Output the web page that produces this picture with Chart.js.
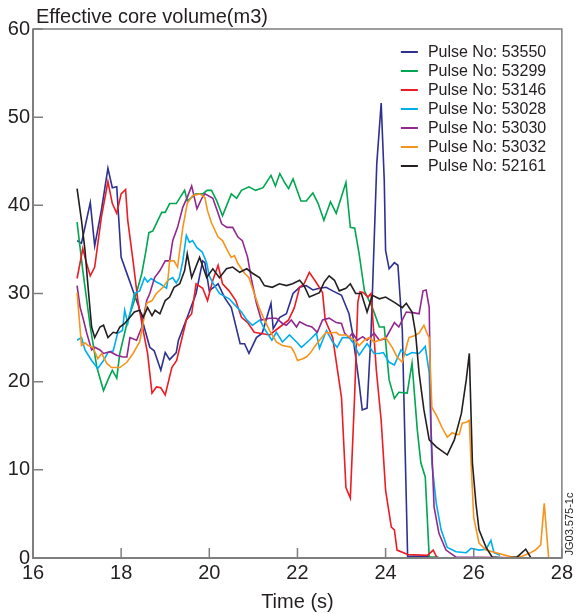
<!DOCTYPE html>
<html>
<head>
<meta charset="utf-8">
<title>Effective core volume</title>
<script src="https://cdn.jsdelivr.net/npm/chart.js@4/dist/chart.umd.min.js"></script>
<style>
  html, body { margin: 0; padding: 0; background: #fff; }
  canvas { display: block; }
</style>
</head>
<body>
<canvas id="chart" width="576" height="614"></canvas>
<script>
// axis ticks
const xTicks = [16, 18, 20, 22, 24, 26, 28];
const yTicks = [0, 10, 20, 30, 40, 50, 60];

// pulse names and colours
const pulseNames = ['Pulse No: 53550', 'Pulse No: 53299', 'Pulse No: 53146', 'Pulse No: 53028',
    'Pulse No: 53030', 'Pulse No: 53032', 'Pulse No: 52161'];
const pulseColors = ['#2e3192', '#00a651', '#ed1c24', '#00aeef', '#92278f', '#f7941d', '#231f20'];

// Pulse 53550
const t53550 = [17.0, 17.1, 17.3, 17.4, 17.55, 17.7, 17.8, 17.9, 18.0, 18.15, 18.27, 18.4, 18.5, 18.65, 18.75, 18.9,
    19.0, 19.1, 19.25, 19.3, 19.5, 19.7, 19.85, 19.9, 20.0, 20.2, 20.35, 20.5, 20.7, 20.8, 20.9, 21.07, 21.2, 21.4,
    21.45, 21.6, 21.75, 21.9, 22.05, 22.2, 22.35, 22.5, 22.65, 22.8, 23.0, 23.17, 23.25, 23.4, 23.47, 23.58, 23.67,
    23.8, 23.9, 23.97, 24.0, 24.08, 24.2, 24.28, 24.38, 24.5, 25.0];
const v53550 = [36.0, 35.7, 40.3, 35.4, 39.4, 44.2, 42.0, 42.1, 34.1, 32.0, 30.3, 28.5, 26.6, 23.9, 23.5, 21.3,
    23.3, 22.5, 23.3, 24.7, 27.3, 30.0, 33.7, 33.5, 30.3, 31.1, 29.5, 28.4, 24.3, 24.3, 23.2, 25.0, 25.5, 28.9,
    26.0, 27.3, 27.7, 30.0, 30.7, 30.9, 30.4, 30.6, 30.7, 30.3, 29.8, 27.7, 25.5, 19.8, 16.8, 17.0, 25.5,
    44.7, 51.6, 42.8, 34.9, 32.8, 33.5, 33.2, 25.8, 0.2, 0.2];

// Pulse 53299
const t53299 = [17.0, 17.13, 17.3, 17.45, 17.6, 17.7, 17.8, 17.9, 17.97, 18.13, 18.3, 18.47, 18.55, 18.63, 18.72,
    18.92, 19.0, 19.1, 19.25, 19.44, 19.5, 19.7, 19.85, 19.95, 20.05, 20.17, 20.3, 20.5, 20.62, 20.73, 20.9, 21.05,
    21.22, 21.4, 21.5, 21.6, 21.72, 21.8, 21.9, 22.08, 22.2, 22.35, 22.47, 22.6, 22.75, 22.88, 23.1, 23.2, 23.3,
    23.4, 23.52, 23.7, 23.86, 23.97, 24.08, 24.2, 24.3, 24.49, 24.6, 24.72, 24.8, 24.9, 24.99, 25.2];
const v53299 = [38.1, 32.6, 26.2, 21.6, 19.0, 20.2, 21.3, 20.4, 23.2, 26.6, 29.2, 32.3, 34.5, 36.9, 37.1,
    39.2, 39.2, 40.2, 40.2, 41.7, 40.5, 41.3, 41.3, 41.7, 41.7, 40.5, 38.8, 41.3, 40.8, 41.7, 42.1, 41.7,
    42.0, 43.4, 42.2, 43.6, 42.5, 41.9, 43.0, 40.5, 40.5, 41.4, 40.2, 38.3, 40.4, 39.1, 42.6, 37.5, 37.4,
    34.5, 30.3, 28.4, 26.2, 26.2, 20.2, 18.1, 18.8, 18.7, 22.1, 14.5, 10.8, 9.2, 0.1, 0.1];

// Pulse 53146
const t53146 = [17.0, 17.13, 17.2, 17.3, 17.4, 17.55, 17.7, 17.8, 17.9, 18.0, 18.1, 18.15, 18.27, 18.38, 18.5,
    18.6, 18.7, 18.8, 18.9, 19.0, 19.15, 19.26, 19.33, 19.48, 19.6, 19.7, 19.85, 19.96, 20.08, 20.2, 20.3, 20.45,
    20.6, 20.73, 20.87, 21.02, 21.15, 21.37, 21.6, 21.8, 21.93, 22.05, 22.15, 22.27, 22.42, 22.57, 22.63, 22.8,
    22.9, 23.0, 23.1, 23.2, 23.3, 23.37, 23.42, 23.5, 23.6, 23.67, 23.79, 23.9, 24.0, 24.13, 24.2, 24.26, 24.5,
    24.95, 25.08, 25.17, 25.3];
const v53146 = [31.7, 35.1, 33.7, 32.0, 33.0, 38.6, 42.7, 40.2, 39.1, 41.3, 41.8, 38.3, 33.7, 29.2, 25.8,
    23.2, 18.7, 19.4, 19.3, 18.5, 21.6, 22.4, 23.9, 27.0, 27.7, 31.1, 30.6, 29.2, 31.5, 33.2, 31.1, 30.3,
    29.2, 27.3, 26.7, 25.6, 25.5, 25.3, 26.2, 27.0, 28.4, 30.7, 31.1, 32.4, 31.3, 30.1, 27.0, 25.0,
    21.6, 18.2, 8.0, 6.8, 18.7, 29.0, 30.2, 30.1, 29.6, 30.0, 21.3, 15.6, 7.7, 3.5, 3.2, 0.9, 0.4,
    0.3, 0.9, 0.0, 0.0];

// Pulse 53028
const t53028 = [17.0, 17.1, 17.18, 17.33, 17.47, 17.6, 17.7, 17.82, 17.92, 18.03, 18.08, 18.15, 18.3, 18.42,
    18.53, 18.6, 18.68, 18.8, 18.88, 19.03, 19.06, 19.17, 19.25, 19.32, 19.4, 19.48, 19.55, 19.62, 19.72, 19.84,
    19.94, 20.0, 20.08, 20.23, 20.45, 20.6, 20.73, 20.85, 20.98, 21.15, 21.25, 21.42, 21.52, 21.66, 21.82, 21.98,
    22.09, 22.27, 22.43, 22.5, 22.66, 22.8, 22.9, 23.02, 23.17, 23.28, 23.4, 23.58, 23.74, 23.85, 23.95, 24.08,
    24.2, 24.35, 24.48, 24.6, 24.76, 24.9, 24.99, 25.05, 25.15, 25.26, 25.4, 25.6, 25.83, 25.94, 26.12, 26.28,
    26.39, 26.46, 26.6];
const v53028 = [24.7, 25.0, 23.6, 22.4, 21.5, 22.4, 23.3, 23.5, 25.5, 25.8, 28.1, 26.6, 30.0, 30.3,
    31.8, 31.3, 31.7, 31.3, 31.1, 30.6, 31.5, 31.8, 31.2, 31.8, 33.7, 36.6, 35.8, 36.0, 35.2, 34.7,
    33.5, 32.0, 31.2, 30.0, 29.4, 28.6, 27.9, 27.0, 26.4, 27.0, 26.0, 24.7, 25.6, 24.5, 25.3, 24.5,
    23.9, 24.7, 25.5, 23.8, 25.8, 24.5, 23.9, 25.0, 25.0, 24.3, 23.0, 24.3, 23.2, 23.2, 23.3, 22.2,
    21.9, 23.6, 23.0, 23.3, 23.2, 24.0, 21.0, 10.8, 6.2, 3.2, 1.2, 0.7, 0.6, 1.1, 0.9, 1.0,
    2.0, 0.6, 0.3];

// Pulse 53030
const t53030 = [17.0, 17.07, 17.13, 17.22, 17.33, 17.4, 17.52, 17.6, 17.75, 17.9, 18.04, 18.13, 18.2, 18.35,
    18.47, 18.58, 18.65, 18.76, 18.88, 19.0, 19.1, 19.17, 19.28, 19.4, 19.5, 19.6, 19.72, 19.83, 19.9, 20.08,
    20.2, 20.28, 20.4, 20.53, 20.65, 20.75, 20.87, 20.96, 21.07, 21.18, 21.37, 21.52, 21.66, 21.75, 21.86, 21.98,
    22.05, 22.2, 22.33, 22.45, 22.57, 22.72, 22.88, 23.0, 23.07, 23.17, 23.25, 23.36, 23.48, 23.58, 23.74, 23.86,
    24.0, 24.2, 24.3, 24.47, 24.65, 24.76, 24.85, 24.92, 24.99, 25.03, 25.1, 25.21, 25.37, 25.6, 27.5];
const v53030 = [30.9, 28.4, 27.3, 25.5, 23.6, 23.9, 23.6, 23.2, 23.4, 23.0, 22.8, 22.8, 25.0, 24.7,
    26.2, 29.2, 30.0, 31.8, 32.6, 33.7, 33.7, 36.0, 37.5, 39.8, 40.9, 42.2, 39.6, 40.8, 41.3, 40.8,
    39.1, 37.9, 37.5, 37.5, 36.4, 36.0, 34.1, 31.5, 28.9, 27.0, 27.2, 27.2, 26.6, 26.4, 27.0, 26.2,
    26.8, 26.4, 26.2, 25.6, 27.0, 27.2, 26.7, 26.6, 25.5, 25.0, 25.5, 24.7, 25.1, 24.7, 25.5, 24.7,
    24.9, 26.7, 26.2, 27.9, 27.8, 27.7, 30.3, 30.4, 28.4, 14.8, 5.8, 2.8, 0.9, 0.1, 0.0];

// Pulse 53032
const t53032 = [17.0, 17.1, 17.18, 17.25, 17.36, 17.47, 17.56, 17.67, 17.78, 17.97, 18.13, 18.27, 18.42, 18.58,
    18.7, 18.8, 18.95, 19.06, 19.1, 19.2, 19.28, 19.4, 19.5, 19.62, 19.78, 19.9, 19.96, 20.05, 20.2, 20.3,
    20.41, 20.5, 20.57, 20.65, 20.8, 20.9, 21.02, 21.13, 21.25, 21.37, 21.52, 21.66, 21.86, 21.93, 22.0, 22.12,
    22.2, 22.3, 22.38, 22.5, 22.65, 22.72, 22.88, 22.95, 23.1, 23.3, 23.4, 23.52, 23.63, 23.74, 23.86, 24.0,
    24.15, 24.26, 24.38, 24.47, 24.53, 24.65, 24.76, 24.87, 24.94, 24.99, 25.05, 25.17, 25.28, 25.4, 25.51, 25.6,
    25.67, 25.74, 25.83, 25.9, 25.94, 26.0, 26.12, 26.28, 26.57, 26.87, 27.1, 27.25, 27.4, 27.52, 27.6, 27.7];
const v53032 = [30.1, 24.1, 24.4, 24.1, 23.9, 22.6, 23.2, 22.1, 21.6, 21.6, 22.2, 23.2, 24.5, 28.9,
    29.2, 30.0, 30.7, 31.5, 33.7, 33.7, 33.0, 37.5, 40.2, 41.1, 41.3, 40.9, 39.4, 38.0, 36.4, 36.0,
    34.9, 34.1, 34.3, 33.4, 32.3, 31.8, 30.0, 28.4, 27.0, 25.8, 24.5, 24.1, 23.9, 23.3, 22.4, 22.6,
    22.8, 23.3, 23.9, 24.7, 25.6, 25.5, 25.6, 25.3, 25.3, 24.7, 24.1, 24.7, 25.0, 24.5, 24.7, 25.0,
    23.9, 22.8, 22.2, 23.9, 25.0, 25.2, 25.5, 26.4, 25.5, 25.0, 17.1, 16.0, 14.8, 13.7, 14.2, 14.0,
    14.0, 15.3, 15.4, 15.6, 10.8, 4.6, 1.7, 0.9, 0.5, 0.1, 0.2, 0.5, 0.9, 1.5, 6.2, 0.0];

// Pulse 52161
const t52161 = [17.0, 17.1, 17.18, 17.25, 17.33, 17.4, 17.52, 17.6, 17.7, 17.82, 17.9, 17.97, 18.08, 18.2, 18.3,
    18.42, 18.5, 18.6, 18.7, 18.77, 18.88, 19.0, 19.1, 19.2, 19.33, 19.44, 19.5, 19.6, 19.78, 19.94, 20.08, 20.23,
    20.39, 20.53, 20.69, 20.85, 20.98, 21.14, 21.25, 21.43, 21.59, 21.75, 21.89, 22.05, 22.15, 22.27, 22.5, 22.61,
    22.72, 22.84, 22.95, 23.1, 23.2, 23.32, 23.45, 23.58, 23.7, 23.86, 24.0, 24.2, 24.38, 24.47, 24.6, 24.68,
    24.76, 24.87, 24.99, 25.15, 25.4, 25.56, 25.72, 25.83, 25.9, 25.97, 26.05, 26.12, 26.28, 26.42, 26.73, 26.98,
    27.18, 27.3, 28.0];
const v52161 = [41.9, 38.3, 34.9, 30.7, 26.2, 25.0, 26.2, 26.4, 25.0, 25.6, 25.5, 26.2, 26.6, 27.3, 27.9,
    28.1, 27.3, 28.4, 27.5, 28.1, 27.7, 29.2, 29.6, 30.7, 31.1, 32.6, 34.5, 31.8, 34.1, 31.8, 32.8, 31.8,
    32.8, 33.0, 32.4, 32.8, 32.3, 31.8, 30.9, 30.7, 31.1, 30.9, 31.1, 31.5, 30.9, 29.6, 30.1, 31.3,
    32.0, 31.5, 30.3, 30.6, 31.1, 30.0, 30.0, 27.9, 29.8, 29.4, 29.6, 29.0, 28.4, 28.9, 27.9, 25.5,
    21.0, 16.8, 13.4, 12.6, 11.7, 13.4, 16.4, 20.2, 23.2, 10.8, 6.2, 3.2, 1.2, 0.1, 0.0, 0.1,
    1.0, 0.0, 0.0];

const pulseTimes = [t53550, t53299, t53146, t53028, t53030, t53032, t52161];
const pulseValues = [v53550, v53299, v53146, v53028, v53030, v53032, v52161];

const FONT = '"Liberation Sans", Arial, Helvetica, sans-serif';
const TEXT = '#231f20';
const FRAME = '#7f7f7f';

// Build the datasets, later pulses drawn on top
const datasets = pulseNames.map((name, i) => ({
    label: name,
    data: pulseTimes[i].map((t, k) => ({ x: t, y: pulseValues[i][k] })),
    borderColor: pulseColors[i],
    backgroundColor: pulseColors[i],
    borderWidth: 1.6,
    showLine: true,
    pointRadius: 0,
    tension: 0,
    order: pulseNames.length - i
}));

// Frame, inward ticks, title, legend and stamp
const decorPlugin = {
    id: 'decor',
    afterDatasetsDraw(chart) {
        const { ctx, chartArea: a, scales } = chart;
        ctx.save();

        // frame
        ctx.strokeStyle = FRAME;
        ctx.lineWidth = 1.5;
        ctx.strokeRect(a.left, a.top, a.right - a.left, a.bottom - a.top);
        ctx.lineWidth = 2;
        ctx.beginPath();
        ctx.moveTo(a.left, a.top);
        ctx.lineTo(a.left, a.bottom);
        ctx.lineTo(a.right, a.bottom);
        ctx.stroke();

        // inward tick marks
        ctx.lineWidth = 1.5;
        ctx.beginPath();
        yTicks.forEach(v => {
            const y = scales.y.getPixelForValue(v);
            ctx.moveTo(a.left, y);
            ctx.lineTo(a.left + 10, y);
        });
        xTicks.forEach(v => {
            const x = scales.x.getPixelForValue(v);
            ctx.moveTo(x, a.bottom);
            ctx.lineTo(x, a.bottom - 10);
        });
        ctx.stroke();

        // title over the y axis
        ctx.fillStyle = TEXT;
        ctx.font = '20px ' + FONT;
        ctx.textAlign = 'left';
        ctx.textBaseline = 'alphabetic';
        ctx.fillText('Effective core volume(m3)', a.left + 3, 23);

        // legend
        ctx.font = '16px ' + FONT;
        ctx.textBaseline = 'middle';
        pulseNames.forEach((name, i) => {
            const y = a.top + 23 + i * 19;
            ctx.strokeStyle = pulseColors[i];
            ctx.lineWidth = 2;
            ctx.beginPath();
            ctx.moveTo(a.right - 161, y);
            ctx.lineTo(a.right - 144, y);
            ctx.stroke();
            ctx.fillStyle = TEXT;
            ctx.fillText(name, a.right - 134, y + 1);
        });

        // figure stamp on the right edge
        ctx.font = '11px ' + FONT;
        ctx.textAlign = 'center';
        ctx.translate(a.right + 8, a.bottom - 34);
        ctx.rotate(-Math.PI / 2);
        ctx.fillText('JG03.575-1c', 0, 0);

        ctx.restore();
    }
};

new Chart(document.getElementById('chart'), {
    type: 'scatter',
    data: { datasets: datasets },
    options: {
        responsive: false,
        animation: false,
        devicePixelRatio: 1,
        layout: { padding: { top: 29, right: 13, left: 0, bottom: 0 } },
        plugins: {
            legend: { display: false },
            tooltip: { enabled: false }
        },
        scales: {
            x: {
                type: 'linear',
                min: 16,
                max: 28,
                afterBuildTicks: scale => { scale.ticks = xTicks.map(v => ({ value: v })); },
                afterFit: scale => { scale.height = 56; },
                grid: { display: false, drawTicks: false },
                border: { display: false },
                ticks: { color: TEXT, font: { family: FONT, size: 20 }, padding: 3, maxRotation: 0 },
                title: {
                    display: true,
                    text: 'Time (s)',
                    color: TEXT,
                    font: { family: FONT, size: 20 },
                    padding: { top: 10, bottom: 0 }
                }
            },
            y: {
                min: 0,
                max: 60,
                afterBuildTicks: scale => { scale.ticks = yTicks.map(v => ({ value: v })); },
                afterFit: scale => { scale.width = 33; },
                grid: { display: false, drawTicks: false },
                border: { display: false },
                ticks: { color: TEXT, font: { family: FONT, size: 20 }, padding: 3 }
            }
        }
    },
    plugins: [decorPlugin]
});
</script>
</body>
</html>
